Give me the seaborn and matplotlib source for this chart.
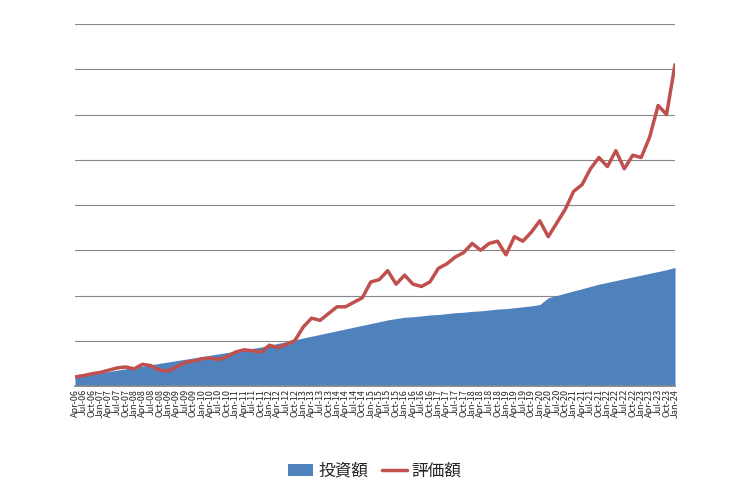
import matplotlib
matplotlib.use("Agg")
import matplotlib.pyplot as plt
import seaborn as sns
import numpy as np
import pandas as pd

sns.set_theme(style="white")
plt.rcParams['font.family'] = ['Noto Sans CJK JP', 'DejaVu Sans']

mon = ["Jan", "Apr", "Jul", "Oct"]
labels = ["Apr-06", "Jul-06", "Oct-06"] + [f"{m}-{y:02d}" for y in range(7, 24) for m in mon] + ["Jan-24"]

invest = [0.20, 0.23, 0.26, 0.29, 0.32, 0.35, 0.38, 0.41, 0.44, 0.47, 0.50, 0.53,
          0.56, 0.59, 0.62, 0.65, 0.68, 0.71, 0.74, 0.77, 0.80, 0.83, 0.86, 0.90,
          0.94, 0.98, 1.02, 1.06, 1.10, 1.14, 1.18, 1.22, 1.26, 1.30, 1.34, 1.38,
          1.42, 1.46, 1.49, 1.52, 1.53, 1.55, 1.57, 1.58, 1.60, 1.62, 1.63, 1.65,
          1.66, 1.68, 1.70, 1.71, 1.73, 1.75, 1.77, 1.80, 1.95, 2.00, 2.05, 2.10,
          2.15, 2.20, 2.25, 2.29, 2.33, 2.37, 2.41, 2.45, 2.49, 2.53, 2.57, 2.62]
value = [0.20, 0.23, 0.27, 0.30, 0.35, 0.40, 0.42, 0.38, 0.48, 0.45, 0.35, 0.33,
         0.42, 0.52, 0.55, 0.60, 0.62, 0.58, 0.65, 0.75, 0.80, 0.78, 0.75, 0.90,
         0.85, 0.92, 1.00, 1.30, 1.50, 1.45, 1.60, 1.75, 1.75, 1.85, 1.95, 2.30,
         2.35, 2.55, 2.25, 2.45, 2.25, 2.20, 2.30, 2.60, 2.70, 2.85, 2.95, 3.15,
         3.00, 3.15, 3.20, 2.90, 3.30, 3.20, 3.40, 3.65, 3.30, 3.60, 3.90, 4.30,
         4.45, 4.80, 5.05, 4.85, 5.20, 4.80, 5.10, 5.05, 5.50, 6.20, 6.00, 7.10]

df = pd.DataFrame({"x": np.arange(len(labels)), "inv": invest, "val": value})

fig = plt.figure(figsize=(7.35, 4.79), dpi=100)
ax = fig.add_axes([75/735, 1-386/479, 600/735, 362/479])
ax.fill_between(df["x"], 0, df["inv"], color="#4F81BD", linewidth=0, label="投資額")
sns.lineplot(data=df, x="x", y="val", ax=ax, color="#C0504D", linewidth=2.5, label="評価額")
ax.set_xlim(0, len(labels)-1)
ax.set_ylim(0, 8)
ax.set_yticks(np.arange(0, 9, 1))
ax.yaxis.grid(True, color="#888888", linewidth=0.8)
ax.set_yticklabels([])
ax.tick_params(axis="y", length=0)
ax.set_xticks(df["x"])
ax.set_xticklabels(labels, rotation=90, fontsize=6.5)
ax.tick_params(axis="x", length=0, pad=2)
ax.set_xlabel(""); ax.set_ylabel("")
for s in ["top", "right", "left"]:
    ax.spines[s].set_visible(False)
ax.spines["bottom"].set_color("#888888")
ax.legend(loc="upper center", bbox_to_anchor=(0.5, -0.17), ncol=2, frameon=False,
          fontsize=12, handlelength=1.5, columnspacing=0.8, handletextpad=0.3)
fig.savefig("out.png", dpi=100)
